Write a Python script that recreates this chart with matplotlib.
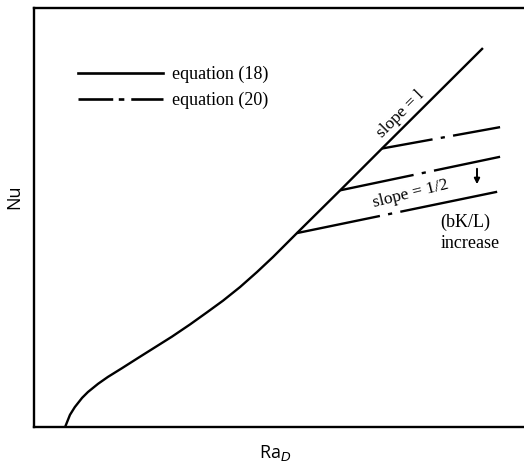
import matplotlib
matplotlib.use('Agg')
import matplotlib.pyplot as plt
import numpy as np

plt.rcParams['lines.scale_dashes'] = False
plt.rcParams['mathtext.fontset'] = 'dejavusans'

# main correlation curve, equation (18) (log Ra_D, log Nu in arbitrary units)
curve_x = [0.64, 0.74, 0.84, 0.99, 1.11, 1.32, 1.52, 1.81, 2.14, 2.49, 2.84, 3.21,
           3.56, 3.89, 4.24, 4.59, 4.92, 5.27, 5.41, 6.30, 7.16, 9.22]
curve_y = [0.00, 0.25, 0.41, 0.60, 0.72, 0.89, 1.03, 1.21, 1.42, 1.64, 1.86, 2.11,
           2.36, 2.60, 2.88, 3.19, 3.50, 3.85, 3.99, 4.87, 5.73, 7.78]

# equation (20) branches for increasing bK/L: start and end points
branch_x0 = [7.16, 6.30, 5.41]
branch_y0 = [5.73, 4.87, 3.99]
branch_x1 = [9.59, 9.59, 9.53]
branch_y1 = [6.17, 5.56, 4.84]
branch_first_dash = [37, 54, 61]   # length of first dash in points

fig = plt.figure(figsize=(5.24, 4.66), dpi=100)
L, R, T, B = 34, 524, 8, 427
ax = fig.add_axes([L / 524, 1 - B / 466, (R - L) / 524, (B - T) / 466])
ppu = 48.6
ax.set_xlim(0, (R - L) / ppu)
ax.set_ylim(0, (B - T) / ppu)
ax.set_xticks([])
ax.set_yticks([])
for s in ['left', 'top', 'bottom']:
    ax.spines[s].set_linewidth(1.7)
ax.spines['right'].set_visible(False)

ax.plot(curve_x, curve_y, color='black', lw=1.7, solid_joinstyle='round')

for x0, y0, x1, y1, d in zip(branch_x0, branch_y0, branch_x1, branch_y1, branch_first_dash):
    ax.plot([x0, x1], [y0, y1], color='black', lw=1.7,
            linestyle=(0, (d, 6, 3, 6, 400)), dash_capstyle='butt')

# legend drawn by hand
serif = 'Liberation Serif'
lx0, lx1 = (78 - L) / ppu, (163 - L) / ppu
ax.plot([lx0, lx1], [(B - 73) / ppu] * 2, color='black', lw=1.9)
ax.plot([lx0, lx1], [(B - 99) / ppu] * 2, color='black', lw=1.9,
        linestyle=(0, (25, 4, 4, 5, 40)), dash_capstyle='butt')
ax.text((172 - L) / ppu, (B - 74) / ppu, 'equation (18)', family=serif,
        fontsize=13, va='center', ha='left')
ax.text((172 - L) / ppu, (B - 100) / ppu, 'equation (20)', family=serif,
        fontsize=13, va='center', ha='left')

ax.text((401 - L) / ppu, (B - 114) / ppu, 'slope = l', family=serif,
        fontsize=12.5, rotation=45, rotation_mode='anchor', ha='center', va='center')
ax.text((411 - L) / ppu, (B - 194) / ppu, 'slope = 1/2', family=serif,
        fontsize=12.5, rotation=14, rotation_mode='anchor', ha='center', va='center')
ax.annotate('', xy=((477 - L) / ppu, (B - 187) / ppu), xytext=((477 - L) / ppu, (B - 166) / ppu),
            arrowprops=dict(arrowstyle='-|>', color='black', lw=1.4, mutation_scale=8))
ax.text((440 - L) / ppu, (B - 222) / ppu, '(bK/L)', family=serif,
        fontsize=13, ha='left', va='center')
ax.text((441 - L) / ppu, (B - 243) / ppu, 'increase', family=serif,
        fontsize=13, ha='left', va='center')

fig.text(14 / 524, 1 - 197 / 466, 'Nu', family='Open Sans', fontsize=13,
         rotation=90, ha='center', va='center')
fig.text(275 / 524, 1 - 453 / 466, r'Ra$_{D}$', family='Open Sans', fontsize=13,
         ha='center', va='center')

fig.savefig('out.png', dpi=100)
